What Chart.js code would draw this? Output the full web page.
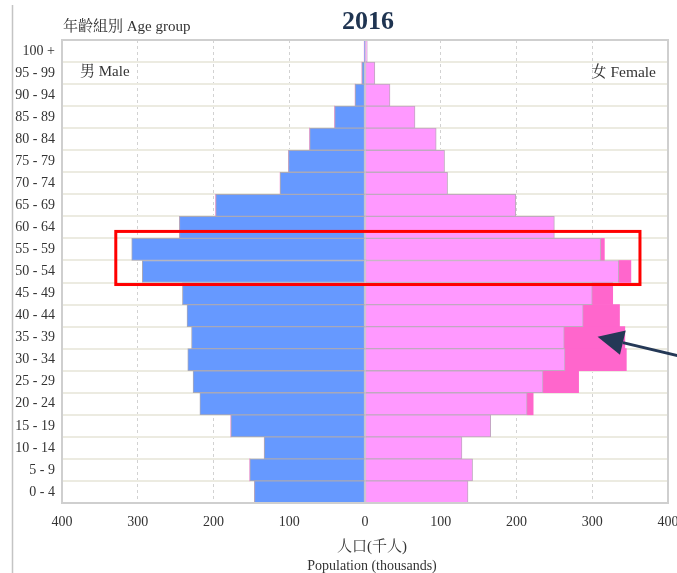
<!DOCTYPE html>
<html>
<head>
<meta charset="utf-8">
<script src="https://cdn.jsdelivr.net/npm/chart.js@4.4.1/dist/chart.umd.min.js"></script>
<style>
  html, body { margin: 0; padding: 0; background: #ffffff; }
  #wrap { width: 677px; height: 573px; position: relative; }
</style>
</head>
<body>
<div id="wrap"><canvas id="c" width="677" height="573"></canvas></div>
<script>
// ---- data (thousands) ----
const ageGroups = ['100 +','95 - 99','90 - 94','85 - 89','80 - 84','75 - 79','70 - 74','65 - 69','60 - 64','55 - 59','50 - 54','45 - 49','40 - 44','35 - 39','30 - 34','25 - 29','20 - 24','15 - 19','10 - 14','5 - 9','0 - 4'];
const maleValues   = [1, 4, 13, 40, 73, 101, 112, 197, 245, 308, 294, 241, 235, 229, 234, 227, 218, 177, 133, 152, 146];
const femaleValues = [3, 13, 33, 66, 94, 105, 109, 199, 250, 311, 335, 300, 288, 263, 264, 235, 214, 166, 128, 142, 136];
const femaleExtra  = [0, 0, 0, 0, 0, 0, 0, 0, 0, 5, 16, 27, 48, 80, 81, 47, 8, 0, 0, 0, 0];
const xTicks = [-400, -300, -200, -100, 0, 100, 200, 300, 400];

const titleText = '2016';
const yAxisLabel = '年齡組別 Age group';
const maleLabel = '男 Male';
const femaleLabel = '女 Female';
const xAxisLabelZh = '人口(千人)';
const xAxisLabelEn = 'Population (thousands)';

// annotation anchors (data space)
const highlightGroups = ['55 - 59', '50 - 54'];
const highlightX = [-329, 363];
const arrowTip = { x: 307, group: '35 - 39' };

const SERIF = '"Liberation Serif", "Noto Serif CJK TC", "Noto Sans CJK TC", serif';

const extras = {
  id: 'extras',
  beforeDraw(chart) {
    const ctx = chart.ctx;
    ctx.save();
    ctx.fillStyle = '#ffffff';
    ctx.fillRect(0, 0, chart.width, chart.height);
    ctx.strokeStyle = '#c4c4c4';
    ctx.lineWidth = 1.5;
    ctx.beginPath();
    ctx.moveTo(12.5, 5);
    ctx.lineTo(12.5, chart.height);
    ctx.stroke();
    ctx.restore();
  },
  afterDraw(chart) {
    const ctx = chart.ctx;
    const a = chart.chartArea;
    const xs = chart.scales.x, ys = chart.scales.y;
    const cx = (a.left + a.right) / 2;
    ctx.save();
    // plot border
    ctx.strokeStyle = '#cfcfcf';
    ctx.lineWidth = 2;
    ctx.strokeRect(a.left, a.top, a.right - a.left, a.bottom - a.top);

    // texts
    ctx.fillStyle = '#1f3451';
    ctx.font = 'bold 26px ' + SERIF;
    ctx.textAlign = 'center';
    ctx.textBaseline = 'middle';
    ctx.fillText(titleText, cx + 3, 22);

    ctx.fillStyle = '#333333';
    ctx.font = '15px ' + SERIF;
    ctx.textAlign = 'left';
    ctx.fillText(yAxisLabel, 63, 27.5);

    ctx.font = '15px ' + SERIF;
    ctx.fillText(maleLabel, 80, 72.5);
    ctx.textAlign = 'right';
    ctx.font = '15.5px ' + SERIF;
    ctx.fillText(femaleLabel, 656, 72.5);

    ctx.textAlign = 'center';
    ctx.font = '15px ' + SERIF;
    ctx.fillText(xAxisLabelZh, cx + 7, 547);
    ctx.font = '14px ' + SERIF;
    ctx.fillText(xAxisLabelEn, cx + 7, 566);

    // red highlight rectangle
    const i0 = ageGroups.indexOf(highlightGroups[0]);
    const i1 = ageGroups.indexOf(highlightGroups[1]);
    const half = (ys.getPixelForValue(1) - ys.getPixelForValue(0)) / 2;
    const rTop = ys.getPixelForValue(i0) - half - 7;
    const rBot = ys.getPixelForValue(i1) + half + 2;
    const rL = xs.getPixelForValue(highlightX[0]);
    const rR = xs.getPixelForValue(highlightX[1]);
    ctx.strokeStyle = '#ff0000';
    ctx.lineWidth = 3;
    ctx.strokeRect(rL, rTop, rR - rL, rBot - rTop);

    // arrow
    const tx = xs.getPixelForValue(arrowTip.x);
    const ty = ys.getPixelForValue(ageGroups.indexOf(arrowTip.group)) - 1;
    const sx = chart.width + 5, sy = ty + 20;
    const ang = Math.atan2(ty - sy, tx - sx);
    const headLen = 26, headHalf = 12.5;
    const bx = tx - headLen * Math.cos(ang), by = ty - headLen * Math.sin(ang);
    ctx.strokeStyle = '#243856';
    ctx.fillStyle = '#243856';
    ctx.lineWidth = 3;
    ctx.beginPath();
    ctx.moveTo(sx, sy);
    ctx.lineTo(bx, by);
    ctx.stroke();
    ctx.beginPath();
    ctx.moveTo(tx, ty);
    ctx.lineTo(bx + headHalf * Math.sin(ang), by - headHalf * Math.cos(ang));
    ctx.lineTo(bx - headHalf * Math.sin(ang), by + headHalf * Math.cos(ang));
    ctx.closePath();
    ctx.fill();
    ctx.restore();
  }
};

new Chart(document.getElementById('c'), {
  type: 'bar',
  data: {
    labels: ageGroups,
    datasets: [
      {
        label: 'Male',
        data: maleValues.map(v => -v),
        backgroundColor: '#6699ff',
        borderColor: '#a9a9b8',
        borderWidth: 1,
        borderSkipped: false
      },
      {
        label: 'Female',
        data: femaleValues,
        backgroundColor: '#ff99ff',
        borderColor: '#c0a8c0',
        borderWidth: 1,
        borderSkipped: false
      },
      {
        label: 'Female (extra)',
        data: femaleExtra,
        backgroundColor: '#ff66cc',
        borderColor: 'rgba(0,0,0,0)',
        borderWidth: 0
      }
    ]
  },
  options: {
    indexAxis: 'y',
    responsive: false,
    animation: false,
    devicePixelRatio: 1,
    layout: { padding: { left: 0, top: 40, right: 9, bottom: 0 } },
    datasets: { bar: { barPercentage: 1, categoryPercentage: 1 } },
    plugins: {
      legend: { display: false },
      tooltip: { enabled: false },
      title: { display: false }
    },
    scales: {
      x: {
        stacked: true,
        min: -400,
        max: 400,
        afterBuildTicks(scale) { scale.ticks = xTicks.map(v => ({ value: v })); },
        afterFit(scale) { scale.height = 70; scale.paddingLeft = 0; scale.paddingRight = 0; },
        ticks: {
          callback: v => String(Math.abs(v)),
          color: '#333333',
          font: { family: SERIF, size: 14 },
          padding: 11,
          maxRotation: 0
        },
        grid: {
          drawTicks: false,
          color: ctx => (ctx.tick && Math.abs(ctx.tick.value) < 400 && ctx.tick.value !== 0) ? '#d2d2d2' : 'rgba(0,0,0,0)',
          lineWidth: 1
        },
        border: { display: false, dash: [3, 3] }
      },
      y: {
        stacked: true,
        afterFit(scale) { scale.width = 62; scale.paddingTop = 0; scale.paddingBottom = 0; },
        ticks: {
          color: '#333333',
          font: { family: SERIF, size: 14 },
          padding: 7
        },
        grid: {
          drawTicks: false,
          color: '#ecebe1',
          lineWidth: 2
        },
        border: { display: false }
      }
    }
  },
  plugins: [extras]
});
</script>
</body>
</html>
